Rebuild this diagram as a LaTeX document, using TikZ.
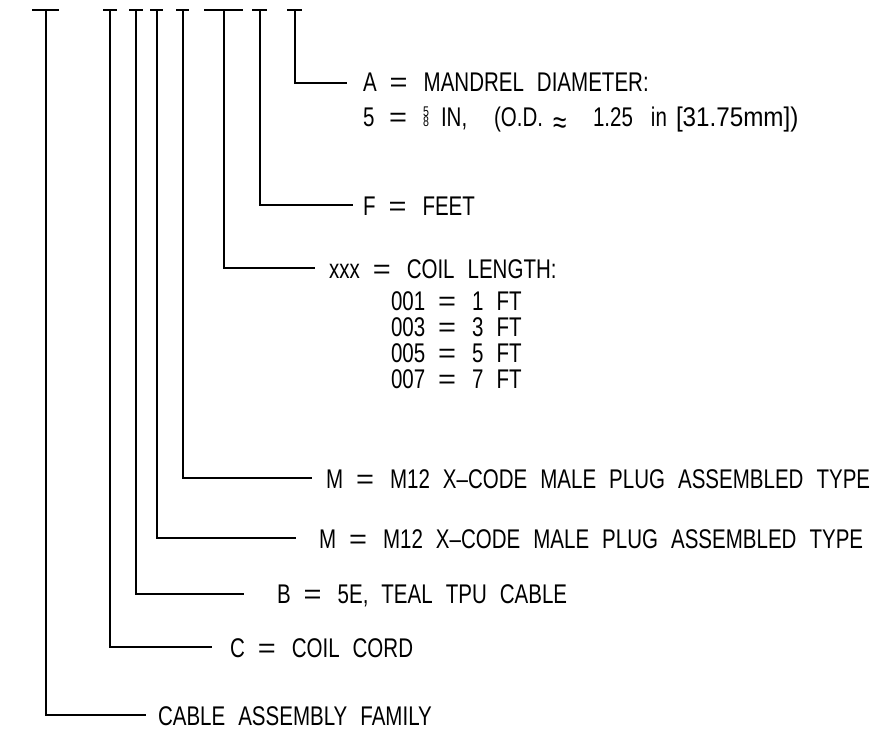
\documentclass[tikz,border=0pt]{standalone}
\usepackage{fontspec}
\usepackage{graphicx}
\setmainfont{Liberation Sans}[FakeStretch=0.76]
\newcommand{\cadfont}{\fontsize{27}{26}\selectfont\spaceskip=13pt\relax}
\newcommand{\eq}{\scalebox{1.5}[1]{=}\hspace{3pt}}
\newcommand{\stackfrac}[2]{{\fontsize{14}{14}\selectfont\rlap{\raisebox{10.5pt}{#1}}#2}}
\newcommand{\at}[2]{\makebox[#1pt][l]{#2}}
\begin{document}
\begin{tikzpicture}[x=1pt,y=-1pt,line width=2pt,
    lbl/.style={anchor=base west,inner sep=0pt,font=\cadfont}]
        \useasboundingbox (0,0) rectangle (882,730);
        % code positions along the top
        \coordinate (tFam) at (45.5,10);
        \coordinate (tC) at (110,10);
        \coordinate (tB) at (136,10);
        \coordinate (tM2) at (156.5,10);
        \coordinate (tM1) at (182.5,10);
        \coordinate (tL) at (223.5,10);
        \coordinate (tF) at (259.5,10);
        \coordinate (tA) at (294.5,10);
        \draw ([xshift=-13.5pt]tFam) -- ([xshift=13.5pt]tFam);
        \draw ([xshift=-7pt]tC) -- ([xshift=7pt]tC);
        \draw ([xshift=-7pt]tB) -- ([xshift=7pt]tB);
        \draw ([xshift=-6.5pt]tM2) -- ([xshift=6.5pt]tM2);
        \draw ([xshift=-6.5pt]tM1) -- ([xshift=6.5pt]tM1);
        \draw ([xshift=-19.5pt]tL) -- ([xshift=19.5pt]tL);
        \draw ([xshift=-7.5pt]tF) -- ([xshift=7.5pt]tF);
        \draw ([xshift=-7.5pt]tA) -- ([xshift=7.5pt]tA);
        % labels
        \node[lbl] (labA) at (362,92) {A \eq{} MANDREL DIAMETER:};
        \node[lbl] (labA2) at (362,127) {\at{26}{5}\at{34}{\eq}\at{18}{\stackfrac{5}{8}}\at{53}{IN,}\at{59}{(O.D.}\at{40}{\raisebox{-7pt}{\fontsize{32}{32}\selectfont ≈}}\at{58}{1.25}\at{25}{in}\scalebox{1.18}[1]{[31.75mm])}};
        \node[lbl] (labF) at (362,215) {F \eq{} FEET};
        \node[lbl] (labL) at (328,278) {xxx \eq{} COIL LENGTH:};
        \node[lbl] (labL1) at (390,310) {001 \eq{} 1 FT};
        \node[lbl] (labL3) at (390,336) {003 \eq{} 3 FT};
        \node[lbl] (labL5) at (390,362) {005 \eq{} 5 FT};
        \node[lbl] (labL7) at (390,388) {007 \eq{} 7 FT};
        \node[lbl] (labM1) at (325,488) {M \eq{} M12 X–CODE MALE PLUG ASSEMBLED TYPE};
        \node[lbl] (labM2) at (318,548) {M \eq{} M12 X–CODE MALE PLUG ASSEMBLED TYPE};
        \node[lbl] (labB) at (276,603) {B \eq{} 5E, TEAL TPU CABLE};
        \node[lbl] (labC) at (229,657) {C \eq{} COIL CORD};
        \node[lbl] (labFam) at (157,725) {CABLE ASSEMBLY FAMILY};
        % leaders
        \draw (tA) |- ([shift={(-15,-9)}]labA.base west);
        \draw (tF) |- ([shift={(-9,-10)}]labF.base west);
        \draw (tL) |- ([shift={(-13,-10)}]labL.base west);
        \draw (tM1) |- ([shift={(-13,-10)}]labM1.base west);
        \draw (tM2) |- ([shift={(-22,-10)}]labM2.base west);
        \draw (tB) |- ([shift={(-32,-9.5)}]labB.base west);
        \draw (tC) |- ([shift={(-17,-10)}]labC.base west);
        \draw (tFam) |- ([shift={(-11,-10)}]labFam.base west);
    \end{tikzpicture}
\end{document}
